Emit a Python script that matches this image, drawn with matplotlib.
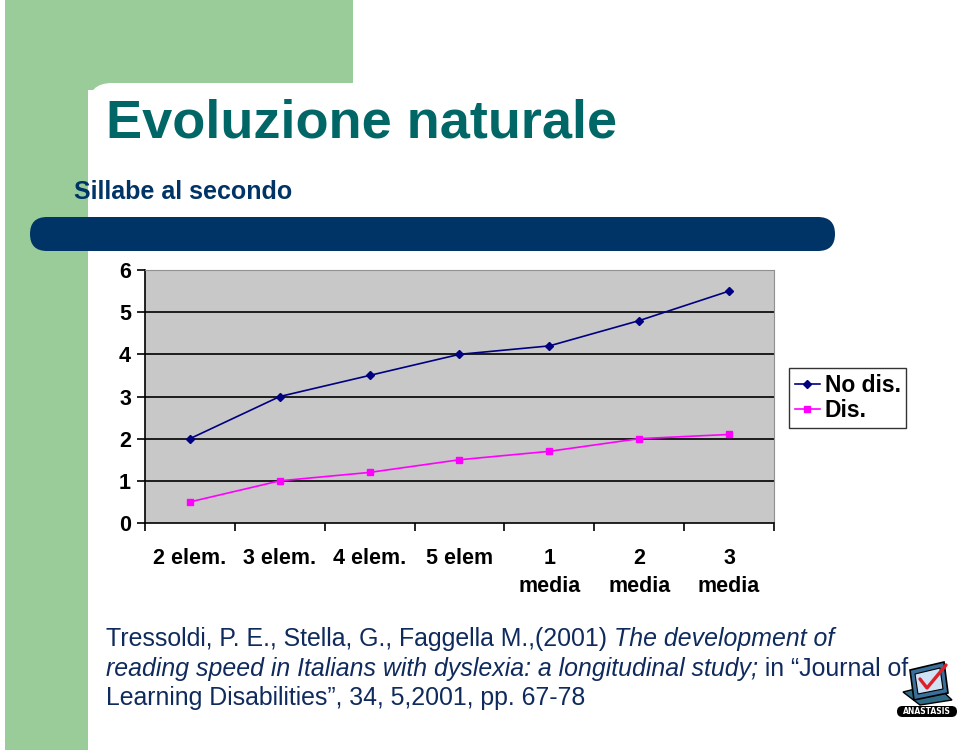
import matplotlib
matplotlib.use("Agg")
import matplotlib.pyplot as plt
from matplotlib.patches import Rectangle, FancyBboxPatch, Polygon

categorie = ["2 elem.", "3 elem.", "4 elem.", "5 elem", "1\nmedia", "2\nmedia", "3\nmedia"]
no_dis = [2, 3, 3.5, 4, 4.2, 4.8, 5.5]
dis = [0.5, 1, 1.2, 1.5, 1.7, 2, 2.1]
yticks = [0, 1, 2, 3, 4, 5, 6]

titolo = "Evoluzione naturale"
sottotitolo = "Sillabe al secondo"
citazione = [
    [("Tressoldi, P. E., Stella, G., Faggella M.,(2001) ", "normal"), ("The development of", "italic")],
    [("reading speed in Italians with dyslexia: a longitudinal study;", "italic"), (" in \u201cJournal of", "normal")],
    [("Learning Disabilities\u201d, 34, 5,2001, pp. 67-78", "normal")],
]

W, H = 960, 750
fig = plt.figure(figsize=(W / 100, H / 100), dpi=100)

# sfondo della diapositiva in coordinate pixel
bg = fig.add_axes([0, 0, 1, 1])
bg.set_xlim(0, W)
bg.set_ylim(H, 0)
bg.axis("off")

verde = "#99cc99"
bg.add_patch(Rectangle((5, 0), 348, 90, color=verde, lw=0))
bg.add_patch(Rectangle((5, 0), 83, H, color=verde, lw=0))
bg.add_patch(FancyBboxPatch((88, 83), 900, 800, boxstyle="round,pad=0,rounding_size=24",
                            color="white", lw=0))
bg.add_patch(FancyBboxPatch((30, 217), 805, 34, boxstyle="round,pad=0,rounding_size=17",
                            color="#003366", lw=0))

bg.text(106, 137, titolo, fontsize=39, fontweight="bold", color="#006666",
        family="Liberation Sans", va="baseline")
bg.text(74, 199, sottotitolo, fontsize=18, fontweight="bold", color="#003366",
        family="Liberation Sans", va="baseline")

# citazione con parti in corsivo
fig.canvas.draw()
rend = fig.canvas.get_renderer()
col_testo = "#0f2a5c"
y_righe = [646, 676, 705]
for riga, yb in zip(citazione, y_righe):
    x = 106
    for pezzo, stile in riga:
        t = bg.text(x, yb, pezzo, fontsize=17.9, style=stile, color=col_testo,
                    family="Liberation Sans", va="baseline")
        bb = t.get_window_extent(renderer=rend)
        x = x + bb.width

# logo (semplice)
bg.add_patch(Polygon([[903, 692], [935, 684], [952, 700], [920, 705]], closed=True,
                     fc="#2f6b86", ec="black", lw=1.0))
bg.add_patch(Polygon([[910, 670], [944, 662], [948, 693], [914, 700]], closed=True,
                     fc="#3a6f9a", ec="black", lw=1.2))
bg.add_patch(Polygon([[915, 674], [940, 668], [943, 689], [918, 694]], closed=True,
                     fc="#cfe3f5", ec="black", lw=0.8))
bg.plot([920, 927, 946], [679, 688, 665], color="#dd1f2a", lw=2.4, solid_capstyle="round")
bg.add_patch(FancyBboxPatch((897, 706), 60, 11, boxstyle="round,pad=0,rounding_size=5.5",
                            color="black", lw=0))
bg.text(927, 711.5, "ANASTASIS", fontsize=5.5, fontweight="bold", color="white",
        ha="center", va="center", family="DejaVu Sans")

# grafico
x0, x1, ytop, ybot = 145, 774, 270, 523
ax = fig.add_axes([x0 / W, 1 - ybot / H, (x1 - x0) / W, (ybot - ytop) / H])
ax.set_facecolor("#c8c8c8")
pos = list(range(len(categorie)))
for y in yticks[1:-1]:
    ax.axhline(y, color="black", lw=1.2, zorder=1)
ax.plot(pos, no_dis, color="#000080", marker="D", markersize=4.5, lw=1.2, label="No dis.", zorder=3)
ax.plot(pos, dis, color="#ff00ff", marker="s", markersize=5, lw=1.2, label="Dis.", zorder=3)
ax.set_xlim(-0.5, len(categorie) - 0.5)
ax.set_ylim(0, 6)
ax.set_yticks(yticks)
ax.set_xticks([p - 0.5 for p in range(len(categorie) + 1)])
ax.set_xticklabels([])
ax.set_xticks(pos, minor=True)
ax.set_xticklabels(categorie, minor=True)
ax.tick_params(axis="x", which="minor", length=0, pad=18)
ax.tick_params(axis="x", which="major", length=6, width=1.2, direction="out")
ax.tick_params(axis="y", length=6, width=1.2, direction="out", pad=4)
for lab in ax.get_xticklabels(minor=True):
    lab.set_family("Liberation Sans")
    lab.set_fontsize(15.5)
    lab.set_fontweight("bold")
    lab.set_va("top")
    lab.set_linespacing(1.45)
for lab in ax.get_yticklabels():
    lab.set_family("Liberation Sans")
    lab.set_fontsize(15.5)
    lab.set_fontweight("bold")
for s in ["top", "right"]:
    ax.spines[s].set_color("#909090")
for s in ["left", "bottom"]:
    ax.spines[s].set_color("black")
    ax.spines[s].set_linewidth(1.2)

leg = ax.legend(loc="upper left", bbox_to_anchor=((789 - x0) / (x1 - x0), (ybot - 368) / (ybot - ytop)),
                borderaxespad=0, frameon=True, fancybox=False, edgecolor="black", borderpad=0.25,
                handlelength=1.1, handletextpad=0.2, labelspacing=0.12,
                prop={"family": "Liberation Sans", "weight": "bold", "size": 16.5})
leg.get_frame().set_linewidth(1.0)

fig.savefig("out.png", dpi=100)
